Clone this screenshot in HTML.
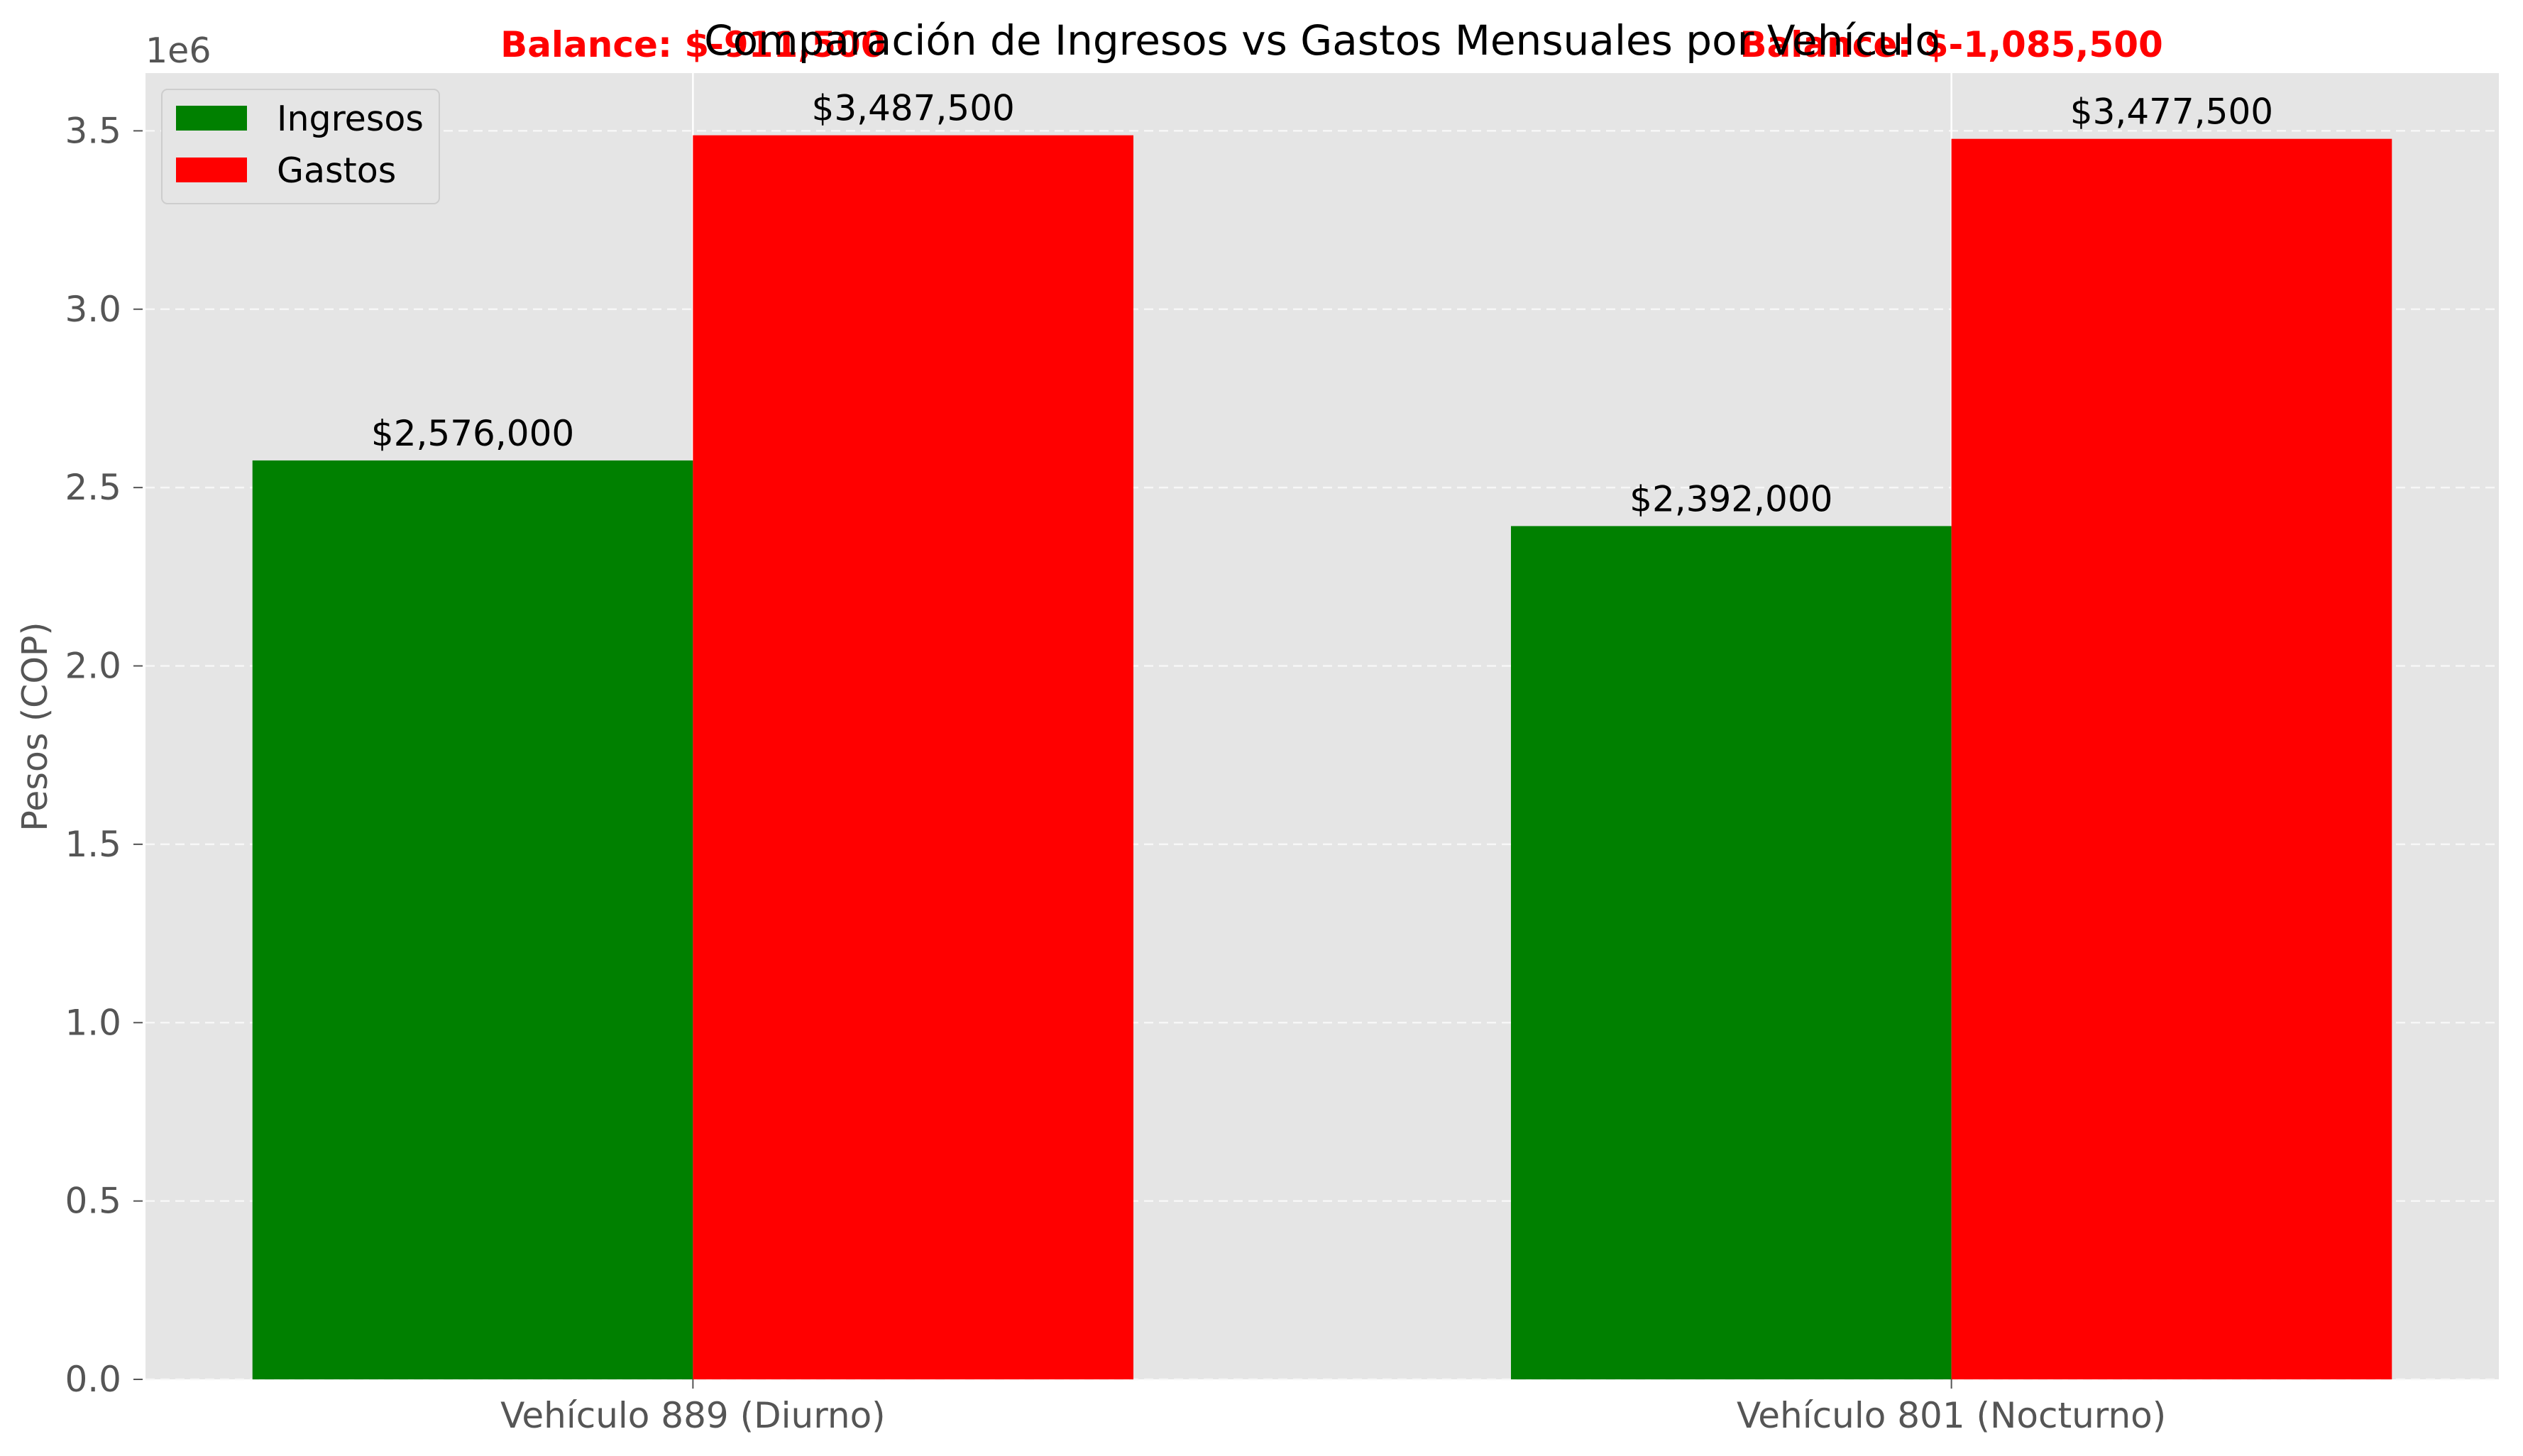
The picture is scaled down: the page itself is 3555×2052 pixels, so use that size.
<!DOCTYPE html>
<html><head><meta charset="utf-8"><style>
html,body{margin:0;padding:0;background:#fff;}
svg{display:block;font-family:"DejaVu Sans","Liberation Sans",sans-serif;}
</style></head><body>
<svg id="chart" width="3555" height="2052" viewBox="0 0 3555 2052" xmlns="http://www.w3.org/2000/svg">
<rect x="0" y="0" width="3555" height="2052" fill="#fff"/>
<rect x="205" y="103" width="3316" height="1841" fill="#e5e5e5"/>
<g id="grid"></g>
<g id="bars"></g>
<g id="labels"></g>
<g id="axes"></g>
<text x="1863" y="77" font-size="58" text-anchor="middle" fill="#000">Comparación de Ingresos vs Gastos Mensuales por Vehículo</text>
<text transform="translate(66,1024) rotate(-90)" font-size="49" text-anchor="middle" fill="#555">Pesos (COP)</text>
<text x="205" y="88" font-size="49" fill="#555">1e6</text>
<g>
<rect x="228" y="126" width="391" height="161" rx="8" fill="#e5e5e5" stroke="#cccccc" stroke-width="2" opacity="0.95"/>
<rect x="248" y="149" width="100" height="35" fill="#008000"/>
<text x="390" y="184" font-size="49" fill="#000">Ingresos</text>
<rect x="248" y="222" width="100" height="35" fill="#ff0000"/>
<text x="390" y="257" font-size="49" fill="#000">Gastos</text>
</g>
</svg>
<script>
const categories = ["Vehículo 889 (Diurno)", "Vehículo 801 (Nocturno)"];
const ingresos = [2576000, 2392000];
const gastos = [3487500, 3477500];
const yTicks = [0, 0.5, 1.0, 1.5, 2.0, 2.5, 3.0, 3.5];

const NS = "http://www.w3.org/2000/svg";
const L = 205, R = 3521, T = 103, B = 1944;
const barW = 0.35;
const xMin = -0.435, xMax = categories.length - 1 + 0.435;
const yMax = Math.max(...ingresos, ...gastos) * 1.05;
function xs(v){ return L + (v - xMin) / (xMax - xMin) * (R - L); }
function ys(v){ return B - v / yMax * (B - T); }
function mk(tag, attrs, parent, text){
  const e = document.createElementNS(NS, tag);
  for (const k in attrs) e.setAttribute(k, attrs[k]);
  if (text !== undefined) e.textContent = text;
  parent.appendChild(e);
  return e;
}
function fmt(v){ const s = Math.abs(v).toLocaleString('en-US'); return (v < 0 ? '$-' : '$') + s; }
const grid = document.getElementById('grid');
const bars = document.getElementById('bars');
const labels = document.getElementById('labels');
const axes = document.getElementById('axes');

yTicks.forEach(t => {
  const y = ys(t * 1e6);
  const g = mk('line', {x1: L, x2: R, y1: y, y2: y, stroke: '#f7f7f7', 'stroke-width': 2.5, 'stroke-dasharray': '13,8'}, grid);
  
  
  const tk = mk('line', {x1: 188, x2: 201, y1: y, y2: y, stroke: '#555', 'stroke-width': 2}, axes);
  
  
  const tl = mk('text', {x: 171, y: y + 17, 'font-size': 50, 'text-anchor': 'end', fill: '#555'}, axes, t.toFixed(1));
  
  
});

categories.forEach((c, i) => {
  const x = xs(i);
  const vg = mk('line', {x1: x, x2: x, y1: T, y2: B, stroke: '#ffffff', 'stroke-width': 2.5}, grid);
  
  

  const gx = xs(i - barW), rx = xs(i), w = xs(barW) - xs(0);
  const gb = mk('rect', {x: gx, y: ys(ingresos[i]), width: w, height: B - ys(ingresos[i]), fill: '#008000'}, bars);
  
  
  const rb = mk('rect', {x: rx, y: ys(gastos[i]), width: w, height: B - ys(gastos[i]), fill: '#ff0000'}, bars);
  
  

  const gl = mk('text', {x: gx + w / 2, y: ys(ingresos[i]) - 21, 'font-size': 50, 'text-anchor': 'middle', fill: '#000'}, labels, fmt(ingresos[i]));
  
  
  const rl = mk('text', {x: rx + w / 2, y: ys(gastos[i]) - 21, 'font-size': 50, 'text-anchor': 'middle', fill: '#000'}, labels, fmt(gastos[i]));
  
  

  const bal = mk('text', {x: x, y: 80, 'font-size': 50, 'font-weight': 'bold', 'text-anchor': 'middle', fill: '#ff0000'}, labels, 'Balance: ' + fmt(ingresos[i] - gastos[i]));
  
  

  const tk = mk('line', {x1: x, x2: x, y1: B, y2: B + 13, stroke: '#555', 'stroke-width': 2}, axes);
  
  
  const xl = mk('text', {x: x, y: 2012, 'font-size': 50, 'text-anchor': 'middle', fill: '#555'}, axes, c);
  
  
});
</script>
</body></html>
